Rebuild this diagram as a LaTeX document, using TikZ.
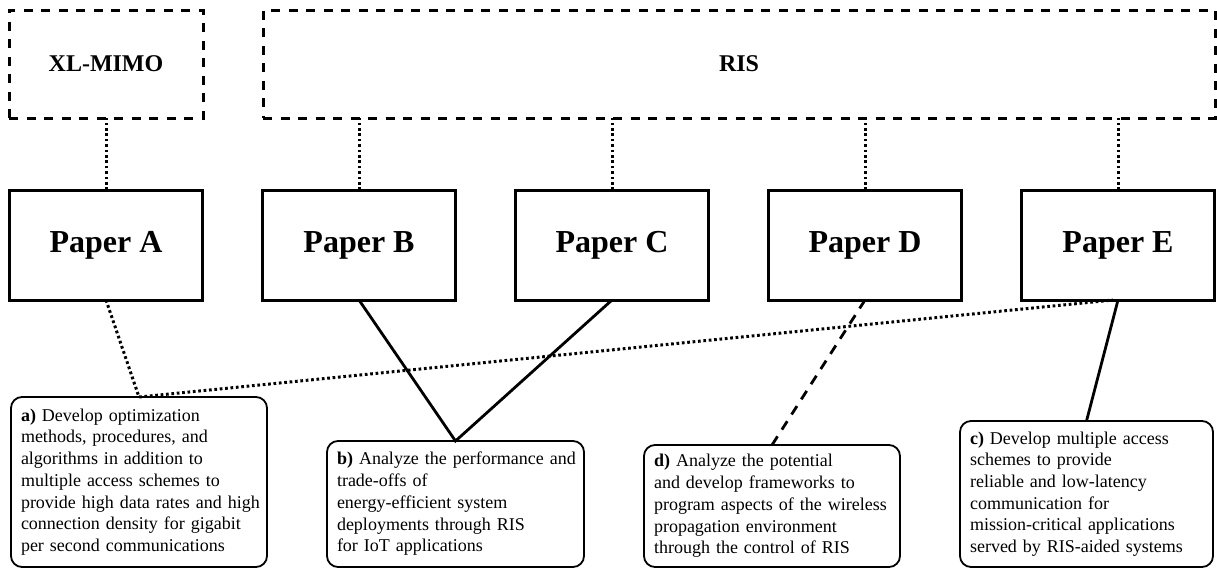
\documentclass[tikz,border=0pt]{standalone}
\usepackage{fontspec}
\setmainfont{Liberation Serif}
% one line per row, never re-broken
\newcommand{\goallines}[1]{\begin{tabular}{@{}l@{}}#1\end{tabular}}
\begin{document}
\begin{tikzpicture}[x=1pt,y=-1pt,
  topic/.style={draw, line width=3pt, dash pattern=on 9pt off 8.5pt,
    inner sep=0pt, outer sep=0pt, minimum height=108pt,
    font=\fontsize{24}{28}\selectfont\bfseries},
  paper/.style={draw, line width=3pt, inner sep=0pt, outer sep=0pt,
    minimum width=193pt, minimum height=110pt,
    font=\fontsize{32}{36}\selectfont\bfseries},
  goal/.style={draw, line width=1.8pt, rounded corners=11pt, inner xsep=10pt,
    inner ysep=0pt, outer sep=0pt, align=left,
    font=\fontsize{18}{21.7}\selectfont},
  dotline/.style={line width=3pt, dash pattern=on 2.7pt off 2.7pt},
  solidline/.style={line width=2.8pt},
  dashline/.style={line width=2.8pt, dash pattern=on 10pt off 8pt}]
\useasboundingbox (0,0) rectangle (1217,568);

% research areas
\node[topic, minimum width=194pt] (xl) at (106,64) {XL-MIMO};
\node[topic, minimum width=952pt] (ris) at (739,64) {RIS};

% papers
\node[paper] (pa) at (106,245) {Paper A};
\node[paper] (pb) at (359,245) {Paper B};
\node[paper] (pc) at (612,245) {Paper C};
\node[paper] (pd) at (865,245) {Paper D};
\node[paper] (pe) at (1118,245) {Paper E};

% objectives
\node[goal, text width=236pt, minimum height=170pt] (ga) at (139,482)
  {\goallines{\textbf{a)} Develop optimization\\methods, procedures, and\\algorithms in addition to\\multiple access schemes to\\provide high data rates and high\\connection density for gigabit\\per second communications}};
\node[goal, text width=237pt, minimum height=126pt] (gb) at (455.5,504)
  {\goallines{\textbf{b)} Analyze the performance and\\trade-offs of\\energy-efficient system\\deployments through RIS\\for IoT applications}};
\node[goal, text width=236pt, minimum height=122pt] (gd) at (772,506)
  {\goallines{\textbf{d)} Analyze the potential\\and develop frameworks to\\program aspects of the wireless\\propagation environment\\through the control of RIS}};
\node[goal, text width=233pt, minimum height=146pt] (gc) at (1086.5,494)
  {\goallines{\textbf{c)} Develop multiple access\\schemes to provide\\reliable and low-latency\\communication for\\mission-critical applications\\served by RIS-aided systems}};

% area to paper links
\draw[dotline] (pa.north) -- (pa.north |- xl.south);
\foreach \p in {pb,pc,pd,pe}
  \draw[dotline] (\p.north) -- (\p.north |- ris.south);

% paper to objective links
\coordinate (pe-dot) at ([xshift=-5pt]pe.south);
\draw[dotline] (pa.south) -- (ga.north) -- (pe-dot);
\draw[solidline] (pb.south) -- (gb.north) -- (pc.south);
\draw[dashline] (pd.south) -- (gd.north);
\draw[solidline] (pe.south) -- (gc.north);
\end{tikzpicture}
\end{document}
